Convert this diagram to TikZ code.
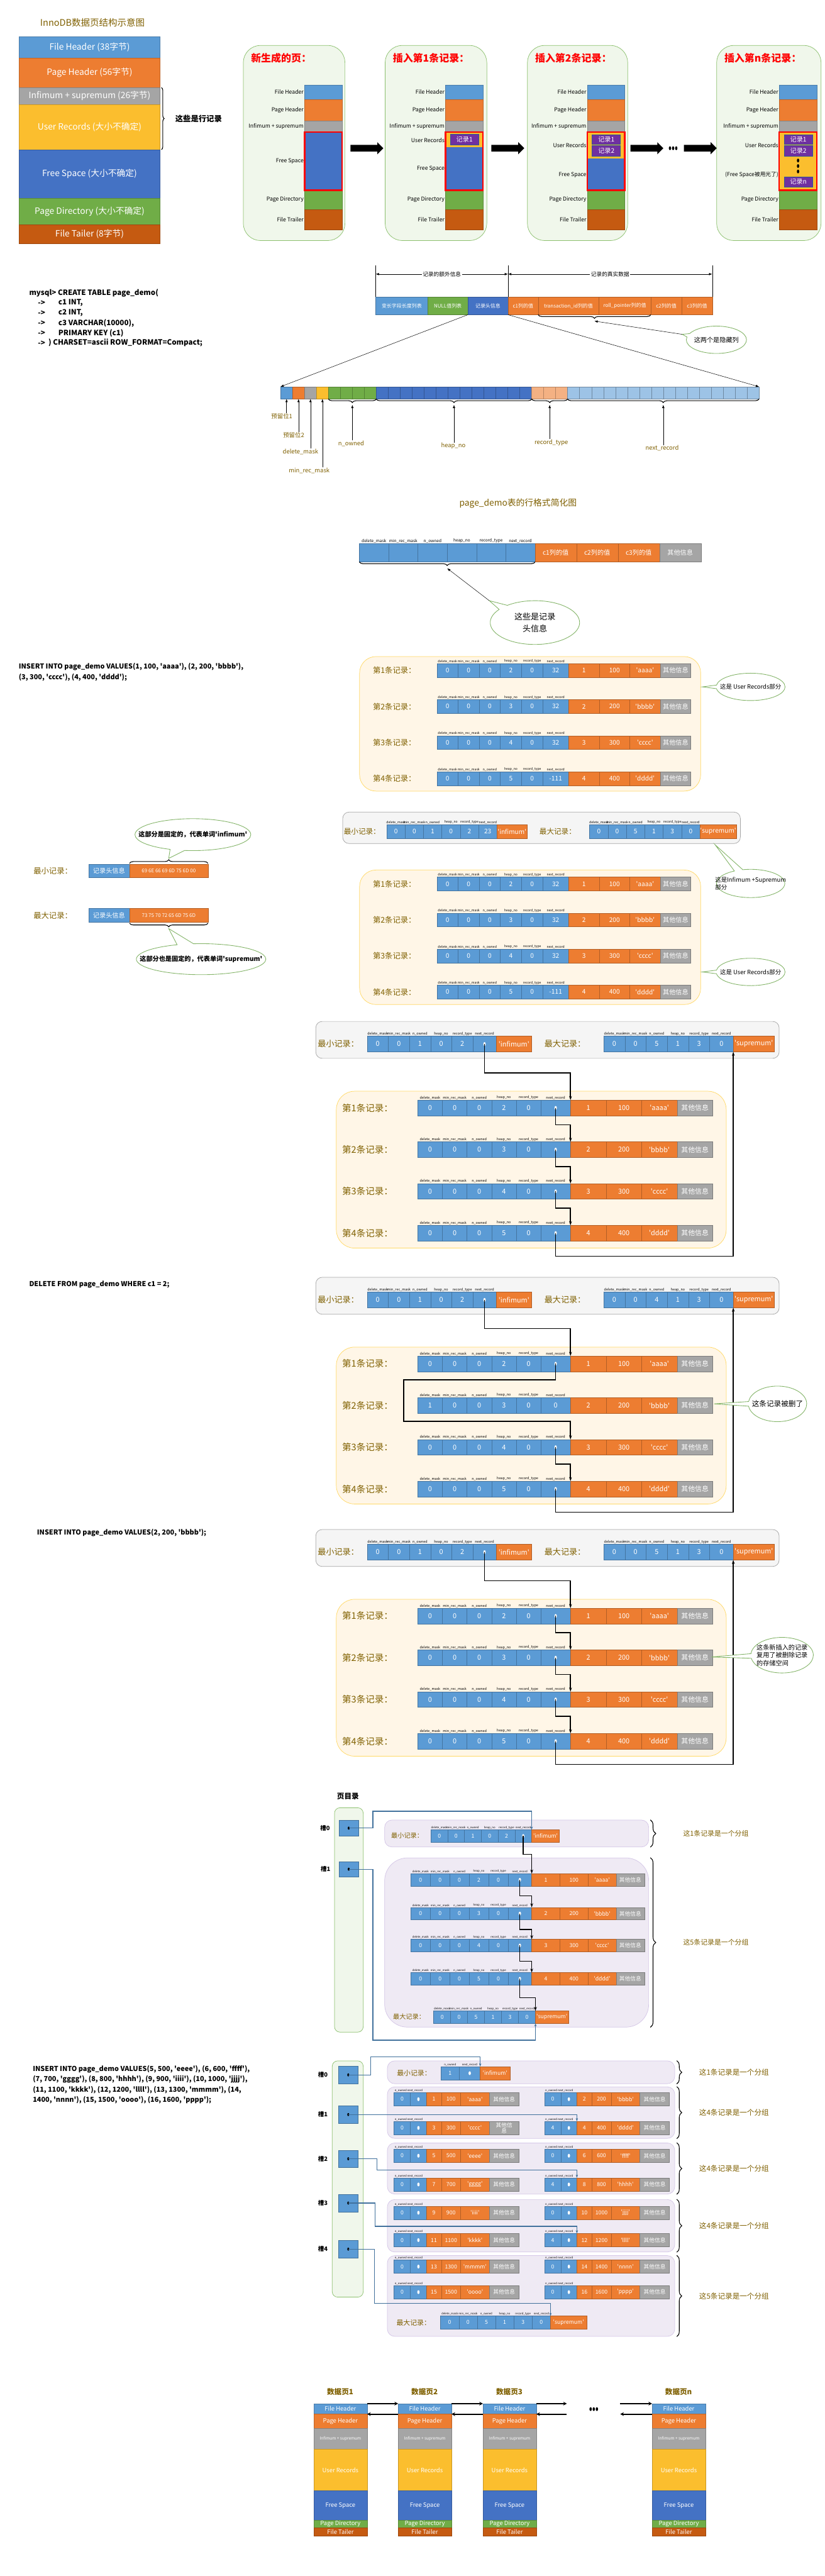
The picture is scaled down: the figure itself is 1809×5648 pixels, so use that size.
\documentclass[tikz,border=0pt]{standalone}
\usepackage{fontspec}
\setmainfont{Noto Sans CJK SC}
\usepackage{tikz}
\usetikzlibrary{shapes.geometric,shapes.arrows,shapes.callouts,arrows.meta,positioning,calc,decorations.pathreplacing}
\definecolor{cblue}{HTML}{5B9BD5}
\definecolor{corange}{HTML}{ED7D31}
\definecolor{cgrey}{HTML}{A5A5A5}
\definecolor{cgold}{HTML}{FBBE2E}
\definecolor{cdblue}{HTML}{4472C4}
\definecolor{cgreen}{HTML}{70AD47}
\definecolor{crust}{HTML}{C55A11}
\definecolor{cpurple}{HTML}{7030A0}
\definecolor{recedge}{HTML}{2F5597}
\definecolor{cltblue}{HTML}{9DC3E6}
\definecolor{cltorange}{HTML}{F4B183}
\definecolor{brownlbl}{HTML}{7F6000}
\definecolor{gpfill}{HTML}{F0F7EB}
\definecolor{gpdraw}{HTML}{8CC06E}
\definecolor{ypfill}{HTML}{FFF6E7}
\definecolor{ypdraw}{HTML}{FFD966}
\definecolor{grfill}{HTML}{F5F5F5}
\definecolor{grdraw}{HTML}{A6A6A6}
\definecolor{lvfill}{HTML}{EFEAF4}
\definecolor{lvdraw}{HTML}{D4C6E7}
\definecolor{slotblue}{HTML}{41719C}
\definecolor{bubgreen}{HTML}{82B366}
\newcommand{\fsz}[1]{\fontsize{#1}{#1}\selectfont}
\newcommand{\q}[1]{\textquotesingle#1\textquotesingle}
\newcommand{\ptr}{\tikz\fill (0,0) ellipse (2.6pt and 4.2pt);}
\newcommand{\sptr}{\tikz\fill (0,0) ellipse (2.2pt and 3.4pt);}
\def\cellfont{\fsz{15}}
\def\hdfont{\fsz{8}}
\def\recheads{delete\_mask,min\_rec\_mask,n\_owned,heap\_no,record\_type,next\_record}
\tikzstyle{seg} = [rectangle, anchor=north west, inner sep=0pt, outer sep=0pt, text=white, align=center]
\tikzstyle{cell} = [seg, font=\cellfont, line width=0.6pt]
\tikzstyle{bit} = [rectangle, anchor=north west, inner sep=0pt, minimum width=26.225pt, minimum height=26pt, line width=0.6pt]
\tikzstyle{hdlbl} = [anchor=south, inner sep=1.5pt, font=\hdfont]
\tikzstyle{tag} = [text=brownlbl, inner sep=1pt]
\tikzstyle{slbl} = [anchor=east, inner sep=1pt, font=\fsz{12}]
\tikzstyle{sql} = [anchor=west, inner sep=0pt, font=\bfseries\fsz{15}]
\tikzstyle{recbox} = [rectangle, anchor=north west, inner sep=0pt, fill=cpurple, draw=recedge, line width=1.2pt, text=white, font=\fsz{14}]
\tikzstyle{redbox} = [draw=red, line width=3pt]
\tikzstyle{bigarrow} = [single arrow, fill=black, inner sep=7pt, minimum height=72pt, single arrow head extend=6pt]
\tikzstyle{arrow} = [-{Latex[length=2.5mm]}, line width=0.7pt]
\tikzstyle{dimarr} = [{Latex[length=2.5mm]}-{Latex[length=2.5mm]}, line width=0.8pt]
\tikzstyle{ptr} = [line width=2.2pt, -{Stealth[length=9pt,width=6pt]}]
\tikzstyle{slotln} = [draw=slotblue, line width=1.6pt, -{Stealth[length=7pt,width=5pt]}]
\tikzstyle{link} = [line width=2.5pt, -{Stealth[length=8pt,width=8pt]}]
\tikzstyle{brc} = [decorate, decoration={brace, amplitude=8pt}, line width=1.5pt]
\tikzstyle{brcm} = [decorate, decoration={brace, mirror, amplitude=8pt}, line width=1.5pt]
\tikzstyle{bubble} = [ellipse callout, draw=bubgreen, line width=1.2pt, fill=white, inner sep=0pt]
\tikzstyle{bubtext} = [align=center, inner sep=0pt]
\tikzstyle{panel} = [rectangle, anchor=north west, inner sep=0pt, line width=1pt]
\tikzstyle{gpanel} = [panel, fill=gpfill, draw=gpdraw, rounded corners=38pt]
\tikzstyle{ypanel} = [panel, fill=ypfill, draw=ypdraw, rounded corners=36pt]
\tikzstyle{greypan} = [panel, fill=grfill, draw=grdraw, rounded corners=14pt]
\tikzstyle{lvpanel} = [panel, fill=lvfill, draw=lvdraw, rounded corners=16pt]
\tikzstyle{slot} = [rectangle, anchor=north west, inner sep=0pt, fill=cblue, draw=slotblue, minimum width=43pt, minimum height=38pt]
\newcommand{\fullrec}[8]{%
  \xdef\curx{#2}%
  \foreach \val [count=\i] in {#8}{%
    \ifnum\i<6 \def\w{#5}\else\ifnum\i=6 \def\w{#6}\else\def\w{#7}\fi\fi
    \ifnum\i<7 \def\cc{cblue}\else\ifnum\i<10 \def\cc{corange}\else\def\cc{cgrey}\fi\fi
    \node[cell, fill=\cc, draw=\cc!75!black, minimum width=\w, minimum height=#4] (#1-\i) at (\curx,#3) {\val};
    \pgfmathsetmacro\nx{\curx+\w}\xdef\curx{\nx}%
  }%
  \foreach \h [count=\i] in \recheads {\node[hdlbl] (#1-h\i) at (#1-\i.north) {\h};}%
}
\newcommand{\minirec}[4]{%
  \xdef\curx{#2}%
  \foreach \val [count=\i] in {#4}{%
    \ifcase\i\or\def\w{36}\or\def\w{35}\or\def\w{33}\or\def\w{42}\or\def\w{63}\else\def\w{65}\fi
    \ifnum\i<3 \def\cc{cblue}\else\ifnum\i<6 \def\cc{corange}\else\def\cc{cgrey}\fi\fi
    \node[cell, fill=\cc, draw=\cc!75!black, minimum width=\w, minimum height=29] (#1-\i) at (\curx,#3) {\val};
    \pgfmathsetmacro\nx{\curx+\w}\xdef\curx{\nx}%
  }%
  \node[hdlbl, anchor=south west] (#1-h) at (#1-1.north west) {n\_owned next\_record};%
}
\newcommand{\simplesec}[2]{%
  \node[ypanel, minimum width=748, minimum height=295] (#1pan) at (788,#2) {};
  \pgfmathsetmacro\yr{#2+16}\fullrec{#1r1}{958}{\yr}{30}{46.4}{57}{67}{0,0,0,2,0,32,1,100,\q{aaaa},其他信息}%
  \pgfmathsetmacro\yr{#2+95}\fullrec{#1r2}{958}{\yr}{30}{46.4}{57}{67}{0,0,0,3,0,32,2,200,\q{bbbb},其他信息}%
  \pgfmathsetmacro\yr{#2+174}\fullrec{#1r3}{958}{\yr}{30}{46.4}{57}{67}{0,0,0,4,0,32,3,300,\q{cccc},其他信息}%
  \pgfmathsetmacro\yr{#2+253}\fullrec{#1r4}{958}{\yr}{30}{46.4}{57}{67}{0,0,0,5,0,-111,4,400,\q{dddd},其他信息}%
  \foreach \k in {1,...,4} \node[tag, font=\fsz{17}] (#1l\k) at (865,{#2+31+(\k-1)*79}) {第\k 条记录：};%
}
\newcommand{\listsec}[4]{%
  \pgfmathsetmacro\yA{#2+33}\pgfmathsetmacro\yB{#2+153}%
  \node[greypan, minimum width=1016, minimum height=81] (#1grey) at (692,#2) {};
  \node[tag, font=\fsz{18}] (#1minl) at (742,{#2+50}) {最小记录：};
  \fullrec{#1inf}{805}{\yA}{34}{46.4}{51}{78}{0,0,1,0,2,\ptr,\q{infimum}}%
  \node[tag, font=\fsz{18}] (#1maxl) at (1239,{#2+50}) {最大记录：};
  \fullrec{#1sup}{1324}{\yA}{34}{46.4}{52}{90}{0,0,#3,1,3,0,\q{supremum}}%
  \node[ypanel, rounded corners=40pt, minimum width=855, minimum height=344] (#1pan) at (737,\yB) {};
  \pgfmathsetmacro\yr{#2+173}\fullrec{#1r1}{916}{\yr}{34}{54}{65}{78}{0,0,0,2,0,\ptr,1,100,\q{aaaa},其他信息}%
  \pgfmathsetmacro\yr{#2+264.5}\fullrec{#1r2}{916}{\yr}{34}{54}{65}{78}{#4}%
  \pgfmathsetmacro\yr{#2+356}\fullrec{#1r3}{916}{\yr}{34}{54}{65}{78}{0,0,0,4,0,\ptr,3,300,\q{cccc},其他信息}%
  \pgfmathsetmacro\yr{#2+447.5}\fullrec{#1r4}{916}{\yr}{34}{54}{65}{78}{0,0,0,5,0,\ptr,4,400,\q{dddd},其他信息}%
  \foreach \k in {1,...,4} \node[tag, font=\fsz{20}] (#1l\k) at (806,{#2+190+(\k-1)*91.5}) {第\k 条记录：};%
}
\begin{document}
\begin{tikzpicture}[x=1pt, y=-1pt]
\useasboundingbox (0,0) rectangle (1809,5648);
\fill[white] (0,0) rectangle (1809,5648);

\node[tag, font=\fsz{20}, anchor=west] (title1) at (87,49) {InnoDB数据页结构示意图};
\foreach \n/\ya/\yb/\cl/\tx in {fh/80/127/cblue/{File Header (38字节)}, ph/127/192/corange/{Page Header (56字节)}, is/192/229/cgrey/{Infimum + supremum (26字节)}, ur/229/328/cgold/{User Records (大小不确定)}, fs/328/435/cdblue/{Free Space (大小不确定)}, pd/435/493/cgreen/{Page Directory (大小不确定)}, ft/493/534/crust/{File Tailer (8字节)}}
  \node[seg, fill=\cl, draw=\cl!80!black, minimum width=309, minimum height=\yb-\ya, font=\fsz{19}] (L\n) at (42,\ya) {\tx};
\draw[brc, decoration={brace, amplitude=6pt}] ([xshift=3pt]Lis.north east) -- ([xshift=3pt]Lur.south east);
\node[font=\bfseries\fsz{17}, anchor=west] (rowlbl) at (381,260) {这些是行记录};

\foreach \p/\xa/\xb/\tx in {a/533/756/新生成的页：, b/844/1067/插入第1条记录：, c/1156/1376/插入第2条记录：, d/1571/1800/插入第n条记录：} {
  \node[gpanel, minimum width=\xb-\xa, minimum height=428] (P\p) at (\xa,99) {};
  \node[anchor=west, text=red, font=\bfseries\fsz{22}] (P\p-t) at ({\xa+14},127) {\tx};
}
\foreach \p/\xa in {a/668,b/977,c/1288,d/1709}{
  \foreach \n/\ya/\yb/\cl/\tx in {fh/186/218/cblue/File Header,ph/218/265/corange/Page Header,is/265/289/cgrey/Infimum + supremum,pd/417/459/cgreen/Page Directory,ft/459/504/crust/File Trailer}{
    \node[seg, fill=\cl, draw=\cl!80!black, minimum width=82, minimum height=\yb-\ya] (\p\n) at (\xa,\ya) {};
    \node[slbl] (\p\n-l) at ({\xa-1},{(\ya+\yb)/2}) {\tx};
  }
}
\node[seg, fill=cdblue, minimum width=82, minimum height=128] (afs) at (668,289) {};
\node[slbl] (afs-l) at (667,354) {Free Space};
\draw[redbox] (afs.north west) rectangle (afs.south east);

\node[seg, fill=cgold, minimum width=82, minimum height=33] (bur) at (977,289) {};
\node[seg, fill=cdblue, minimum width=82, minimum height=95] (bfs) at (977,322) {};
\node[recbox, minimum width=62, minimum height=23] (brec1) at (987,294) {记录1};
\node[slbl] (bur-l) at (976,307) {User Records};
\node[slbl] (bfs-l) at (976,370) {Free Space};
\draw[redbox] (bur.north west) rectangle (bfs.south east);

\node[seg, fill=cgold, minimum width=82, minimum height=59] (cur) at (1288,289) {};
\node[seg, fill=cdblue, minimum width=82, minimum height=69] (cfs) at (1288,348) {};
\node[recbox, minimum width=62, minimum height=21] (crec1) at (1298,295) {记录1};
\node[recbox, minimum width=62, minimum height=23] (crec2) at (1298,319) {记录2};
\node[slbl] (cur-l) at (1287,318) {User Records};
\node[slbl] (cfs-l) at (1287,383) {Free Space};
\draw[redbox] (cur.north west) rectangle (cfs.south east);

\node[seg, fill=cgold, minimum width=82, minimum height=128] (dur) at (1709,289) {};
\node[recbox, minimum width=62, minimum height=21] (drec1) at (1719,295) {记录1};
\node[recbox, minimum width=62, minimum height=23] (drec2) at (1719,319) {记录2};
\node[align=center, inner sep=0pt, font=\fontsize{12}{12}\selectfont] (ddots) at (1750,364) {\ptr\\\ptr\\\ptr};
\node[recbox, minimum width=62, minimum height=22] (drecn) at (1719,387) {记录n};
\node[slbl] (dur-l) at (1708,318) {User Records};
\node[slbl] (dfs-l) at (1708,383) {(Free Space被用光了)};
\draw[redbox] (dur.north west) rectangle (dur.south east);

\node[bigarrow] (bar1) at (801,325) {};
\node[bigarrow] (bar2) at (1110,325) {};
\node[bigarrow] (bar3) at (1415,325) {};
\node[inner sep=0pt] (dots1) at (1476,325) {\ptr\,\ptr\,\ptr};
\node[bigarrow] (bar4) at (1532,325) {};

\node[sql, font=\bfseries\fsz{16}] (sq0) at (64,642) {mysql> CREATE TABLE page\_demo(};
\foreach \yy [count=\i] in {664,686,708,730,752} \node[sql, font=\bfseries\fsz{16}] (sqa\i) at (83,\yy) {->};
\node[sql, font=\bfseries\fsz{16}] (sq1) at (128,664) {c1 INT,};
\node[sql, font=\bfseries\fsz{16}] (sq2) at (128,686) {c2 INT,};
\node[sql, font=\bfseries\fsz{16}] (sq3) at (128,708) {c3 VARCHAR(10000),};
\node[sql, font=\bfseries\fsz{16}] (sq4) at (128,730) {PRIMARY KEY (c1)};
\node[sql, font=\bfseries\fsz{16}] (sq5) at (106,752) {) CHARSET=ascii ROW\_FORMAT=Compact;};

\foreach \n/\xa/\xb/\cl/\tx in {1/824/938/cblue/变长字段长度列表, 2/938/1026/cgreen/NULL值列表, 3/1026/1114/cdblue/记录头信息, 4/1114/1180/corange/c1列的值, 5/1180/1313/corange/transaction\_id列的值, 6/1313/1427/corange/roll\_pointer列的值, 7/1427/1495/corange/c2列的值, 8/1495/1562/corange/c3列的值}
  \node[seg, fill=\cl, draw=\cl!75!black, minimum width=\xb-\xa, minimum height=39, font=\fsz{11}] (rf\n) at (\xa,651) {\tx};
\coordinate (dA) at (824,582);
\coordinate (dB) at (1114,582);
\coordinate (dC) at (1562,582);
\draw[line width=0.8pt] (dA) -- (rf1.north west);
\draw[line width=0.8pt] (dB) -- (rf4.north west);
\draw[line width=0.8pt] (dC) -- (rf8.north east);
\draw[dimarr] ([yshift=-19pt]dA) -- node[fill=white, font=\fsz{12}, inner sep=2pt] (dl1) {记录的额外信息} ([yshift=-19pt]dB);
\draw[dimarr] ([yshift=-19pt]dB) -- node[fill=white, font=\fsz{12}, inner sep=2pt] (dl2) {记录的真实数据} ([yshift=-19pt]dC);
\draw[brcm] (rf5.south west) -- (rf6.south east);
\coordinate (rtip) at ($(rf5.south west)!0.5!(rf6.south east)+(0,14)$);
\coordinate (cp2) at (1496,733);
\node[bubble, minimum width=132, minimum height=60, callout absolute pointer={(cp2)}] (cb2) at (1571,745) {};
\node[bubtext, font=\fsz{14}] (cb2t) at (cb2.center) {这两个是隐藏列};
\draw[arrow] (cp2) -- (rtip);

\foreach \k/\cl in {0/cblue,1/corange,2/cgrey,3/cgold} \node[bit, fill=\cl, draw=\cl!75!black] (b\k) at ({615+\k*26.225},848) {};
\foreach \k in {4,...,7} \node[bit, fill=cgreen, draw=cgreen!75!black] (b\k) at ({615+\k*26.225},848) {};
\foreach \k in {8,...,20} \node[bit, fill=cdblue, draw=cdblue!75!black] (b\k) at ({615+\k*26.225},848) {};
\foreach \k in {21,...,23} \node[bit, fill=cltorange, draw=cltorange!75!black] (b\k) at ({615+\k*26.225},848) {};
\foreach \k in {24,...,39} \node[bit, fill=cltblue, draw=cltblue!70!black] (b\k) at ({615+\k*26.225},848) {};
\draw[arrow] (rf3.south west) -- (b0.north west);
\draw[arrow] (rf3.south east) -- (b39.north east);
\draw[brcm] (b4.south west) -- (b7.south east);
\draw[brcm] (b8.south west) -- (b20.south east);
\draw[brcm] (b21.south west) -- (b23.south east);
\draw[brcm] (b24.south west) -- (b39.south east);
\coordinate (tno) at ($(b4.south west)!0.5!(b7.south east)+(0,13)$);
\coordinate (thn) at ($(b8.south west)!0.5!(b20.south east)+(0,13)$);
\coordinate (trt) at ($(b21.south west)!0.5!(b23.south east)+(0,13)$);
\coordinate (tnr) at ($(b24.south west)!0.5!(b39.south east)+(0,13)$);
\node[tag, font=\fsz{13}] (lb1) at (618,913) {预留位1};
\node[tag, font=\fsz{13}] (lb2) at (644,954) {预留位2};
\node[tag, font=\fsz{13}] (lb3) at (659,991) {delete\_mask};
\node[tag, font=\fsz{13}] (lb4) at (678,1032) {min\_rec\_mask};
\node[tag, font=\fsz{13}] (lb5) at (770,973) {n\_owned};
\node[tag, font=\fsz{13}] (lb6) at (994,978) {heap\_no};
\node[tag, font=\fsz{13}] (lb7) at (1209,970) {record\_type};
\node[tag, font=\fsz{13}] (lb8) at (1452,983) {next\_record};
\draw[arrow] (lb1.north -| b0.south) -- (b0.south);
\draw[arrow] (lb2.north -| b1.south) -- (b1.south);
\draw[arrow] (lb3.north -| b2.south) -- (b2.south);
\draw[arrow] (lb4.north -| b3.south) -- (b3.south);
\draw[arrow] (lb5.north -| tno) -- (tno);
\draw[arrow] (lb6.north -| thn) -- (thn);
\draw[arrow] (lb7.north -| trt) -- (trt);
\draw[arrow] (lb8.north -| tnr) -- (tnr);

\def\hdfont{\fsz{9}}
\node[tag, font=\fsz{19}] (s3t) at (1136,1104) {page\_demo表的行格式简化图};
\foreach \i in {1,...,6} \node[seg, fill=cblue, draw=cblue!75!black, minimum width=64.2, minimum height=40] (s3c\i) at ({788+(\i-1)*64.2},1192) {};
\foreach \h [count=\i] in \recheads \node[hdlbl] (s3h\i) at (s3c\i.north) {\h};
\foreach \i/\cl/\tx in {7/corange/c1列的值, 8/corange/c2列的值, 9/corange/c3列的值, 10/cgrey/其他信息}
  \node[seg, fill=\cl, draw=\cl!75!black, minimum width=91, minimum height=40, font=\fsz{14}] (s3c\i) at ({1173+(\i-7)*91},1192) {\tx};
\draw[brcm] (s3c1.south west) -- (s3c6.south east);
\coordinate (s3tip) at ($(s3c1.south west)!0.5!(s3c6.south east)+(0,14)$);
\coordinate (s3cp) at (1073,1317);
\node[bubble, minimum width=196, minimum height=96, callout absolute pointer={(s3cp)}] (s3b) at (1173,1365) {};
\node[bubtext, font=\fontsize{18}{26}\selectfont] (s3bt) at (s3b.center) {这些是记录\\头信息};
\draw[arrow] (s3cp) -- (s3tip);

\def\cellfont{\fsz{14}}\def\hdfont{\fsz{7}}
\node[sql] (ins1) at (41,1462) {INSERT INTO page\_demo VALUES(1, 100, \q{aaaa}), (2, 200, \q{bbbb}),};
\node[sql] (ins1b) at (41,1485) {(3, 300, \q{cccc}), (4, 400, \q{dddd});};
\simplesec{s4}{1439}
\coordinate (s4cp) at (1540,1506);
\node[bubble, minimum width=151, minimum height=60, callout absolute pointer={(s4cp)}] (s4b) at (1646,1506) {};
\node[bubtext, font=\fsz{13}] (s4bt) at (s4b.center) {这是 User Records部分};
\node[greypan, minimum width=872, minimum height=69] (s4grey) at (751,1780) {};
\node[tag, font=\fsz{16}] (s4minl) at (794,1823) {最小记录：};
\fullrec{s4inf}{848}{1808}{30}{40.3}{40.3}{66}{0,0,1,0,2,23,\q{infimum}}
\node[tag, font=\fsz{16}] (s4maxl) at (1223,1823) {最大记录：};
\fullrec{s4sup}{1293}{1808}{30}{40.3}{40.3}{80}{0,0,5,1,3,0,\q{supremum}}

\node[tag, font=\fsz{17}] (s5minl) at (116,1910) {最小记录：};
\node[seg, fill=cblue, draw=cblue!75!black, minimum width=90, minimum height=29, font=\fsz{14}] (s5ih) at (194,1895) {记录头信息};
\node[seg, fill=corange, draw=corange!75!black, minimum width=172, minimum height=29, font=\fsz{11}] (s5iv) at (284,1895) {69 6E 66 69 6D 75 6D 00};
\draw[brc] ([yshift=2pt]s5iv.north west) -- ([yshift=2pt]s5iv.north east);
\coordinate (s5t1) at ($(s5iv.north)+(0,-13)$);
\node[bubble, minimum width=254, minimum height=70, callout absolute pointer={(s5t1)}] (s5b1) at (423,1830) {};
\node[bubtext, font=\bfseries\fsz{14}] (s5b1t) at (s5b1.center) {这部分是固定的，代表单词\q{infimum}};
\node[tag, font=\fsz{17}] (s5maxl) at (116,2007) {最大记录：};
\node[seg, fill=cblue, draw=cblue!75!black, minimum width=90, minimum height=30, font=\fsz{14}] (s5sh) at (194,1992) {记录头信息};
\node[seg, fill=corange, draw=corange!75!black, minimum width=172, minimum height=30, font=\fsz{11}] (s5sv) at (284,1992) {73 75 70 72 65 6D 75 6D};
\draw[brcm] ([yshift=-2pt]s5sv.south west) -- ([yshift=-2pt]s5sv.south east);
\coordinate (s5t2) at ($(s5sv.south)+(0,14)$);
\node[bubble, minimum width=284, minimum height=68, callout absolute pointer={(s5t2)}] (s5b2) at (441,2103) {};
\node[bubtext, font=\bfseries\fsz{14}] (s5b2t) at (s5b2.center) {这部分也是固定的，代表单词\q{supremum}};
\coordinate (s5cp1) at (1568,1852);
\node[bubble, minimum width=150, minimum height=62, callout absolute pointer={(s5cp1)}] (s5b3) at (1646,1937) {};
\node[bubtext, align=left, font=\fontsize{13}{17}\selectfont] (s5b3t) at (s5b3.center) {这是Infimum +Supremum\\部分};
\simplesec{s5}{1907}
\coordinate (s5cp2) at (1540,2131);
\node[bubble, minimum width=151, minimum height=60, callout absolute pointer={(s5cp2)}] (s5b4) at (1646,2131) {};
\node[bubtext, font=\fsz{13}] (s5b4t) at (s5b4.center) {这是 User Records部分};

\def\cellfont{\fsz{15}}\def\hdfont{\fsz{7.5}}
\listsec{la}{2239}{5}{0,0,0,3,0,\ptr,2,200,\q{bbbb},其他信息}
\draw[ptr] (lainf-6.center) -- ++(0,63) -| (lar1-6.north east);
\draw[ptr] (lar1-6.center) -- ++(0,37) -| (lar2-6.north east);
\draw[ptr] (lar2-6.center) -- ++(0,37) -| (lar3-6.north east);
\draw[ptr] (lar3-6.center) -- ++(0,37) -| (lar4-6.north east);
\draw[ptr] (lar4-6.center) -- ++(0,51) -| (lasup-6.south east);

\node[sql] (del) at (64,2817) {DELETE FROM page\_demo WHERE c1 = 2;};
\listsec{lb}{2800}{4}{1,0,0,3,0,0,2,200,\q{bbbb},其他信息}
\draw[ptr] (lbinf-6.center) -- ++(0,63) -| (lbr1-6.north east);
\draw[ptr] (lbr1-6.center) -- ++(0,35) -- ++(-333,0) -- ++(0,91) -| (lbr3-6.north east);
\draw[ptr] (lbr3-6.center) -- ++(0,37) -| (lbr4-6.north east);
\draw[ptr] (lbr4-6.center) -- ++(0,51) -| (lbsup-6.south east);
\coordinate (lbcp) at (1566,3078);
\node[bubble, minimum width=128, minimum height=78, callout absolute pointer={(lbcp)}] (lbb) at (1705,3078) {};
\node[bubtext, font=\fsz{16}] (lbbt) at (lbb.center) {这条记录被删了};

\node[sql] (ins2) at (81,3361) {INSERT INTO page\_demo VALUES(2, 200, \q{bbbb});};
\listsec{lc}{3353}{5}{0,0,0,3,0,\ptr,2,200,\q{bbbb},其他信息}
\draw[ptr] (lcinf-6.center) -- ++(0,63) -| (lcr1-6.north east);
\draw[ptr] (lcr1-6.center) -- ++(0,37) -| (lcr2-6.north east);
\draw[ptr] (lcr2-6.center) -- ++(0,37) -| (lcr3-6.north east);
\draw[ptr] (lcr3-6.center) -- ++(0,37) -| (lcr4-6.north east);
\draw[ptr] (lcr4-6.center) -- ++(0,51) -| (lcsup-6.south east);
\coordinate (lccp) at (1560,3633);
\node[bubble, minimum width=137, minimum height=78, callout absolute pointer={(lccp)}] (lcb) at (1715,3629) {};
\node[bubtext, align=left, font=\fontsize{14}{17}\selectfont] (lcbt) at (lcb.center) {这条新插入的记录\\复用了被删除记录\\的存储空间};

\def\cellfont{\fsz{12}}\def\hdfont{\fsz{6}}
\node[font=\bfseries\fsz{16}] (pdt) at (763,3938) {页目录};
\node[panel, fill=gpfill, draw=gpdraw, rounded corners=12pt, minimum width=63, minimum height=492] (pdir) at (733,3963) {};
\node[slot, minimum height=34] (ps0) at (743,3991) {\sptr};
\node[slot, minimum height=34] (ps1) at (743,4081) {\sptr};
\node[font=\bfseries\fsz{13}] (ps0-l) at (713,4008) {槽0};
\node[font=\bfseries\fsz{13}] (ps1-l) at (714,4098) {槽1};
\node[lvpanel, minimum width=579, minimum height=59] (pg0) at (843,3990) {};
\node[lvpanel, rounded corners=50pt, minimum width=579, minimum height=371] (pg1) at (843,4073) {};
\node[tag, font=\fsz{14}] (pinfl) at (893,4025) {最小记录：};
\fullrec{pinf}{945}{4012}{27}{36.8}{36.8}{61}{0,0,1,0,2,\ptr,\q{infimum}}
\fullrec{pr1}{901}{4108}{27}{42.6}{52}{61.75}{0,0,0,2,0,\ptr,1,100,\q{aaaa},其他信息}
\fullrec{pr2}{901}{4182}{27}{42.6}{52}{61.75}{0,0,0,3,0,\ptr,2,200,\q{bbbb},其他信息}
\fullrec{pr3}{901}{4252}{27}{42.6}{52}{61.75}{0,0,0,4,0,\ptr,3,300,\q{cccc},其他信息}
\fullrec{pr4}{901}{4325}{27}{42.6}{52}{61.75}{0,0,0,5,0,\ptr,4,400,\q{dddd},其他信息}
\node[tag, font=\fsz{14}] (psupl) at (897,4422) {最大记录：};
\fullrec{psup}{951}{4409}{27}{37.2}{37.2}{72}{0,0,5,1,3,0,\q{supremum}}
\draw[ptr, line width=1.8pt] (pinf-6.center) -- ++(0,40) -| (pr1-6.north east);
\draw[ptr, line width=1.8pt] (pr1-6.center) -- ++(0,35) -| (pr2-6.north east);
\draw[ptr, line width=1.8pt] (pr2-6.center) -- ++(0,35) -| (pr3-6.north east);
\draw[ptr, line width=1.8pt] (pr3-6.center) -- ++(0,35) -| (pr4-6.north east);
\draw[ptr, line width=1.8pt] (pr4-6.center) -- ++(0,42) -| (psup-6.north east);
\draw[slotln] (ps0.center) -- ++(53,0) -- ++(0,-37) -| (pinf-6.north east);
\draw[slotln] (ps1.center) -- ++(53,0) -- ++(0,375) -| (psup-6.south east);
\draw[brc, decoration={brace, amplitude=12pt}] ([xshift=3pt]pg0.north east) -- ([xshift=3pt]pg0.south east);
\draw[brc, decoration={brace, amplitude=12pt}] ([xshift=3pt]pg1.north east) -- ([xshift=3pt]pg1.south east);
\node[tag, font=\fsz{15}, anchor=west] (pg0-l) at ([xshift=74pt]pg0.east) {这1条记录是一个分组};
\node[tag, font=\fsz{15}, anchor=west] (pg1-l) at ([xshift=74pt]pg1.east) {这5条记录是一个分组};

\node[sql] (ins3a) at (72,4537) {INSERT INTO page\_demo VALUES(5, 500, \q{eeee}), (6, 600, \q{ffff}),};
\node[sql] (ins3b) at (72,4559) {(7, 700, \q{gggg}), (8, 800, \q{hhhh}), (9, 900, \q{iiii}), (10, 1000, \q{jjjj}),};
\node[sql] (ins3c) at (72,4582) {(11, 1100, \q{kkkk}), (12, 1200, \q{llll}), (13, 1300, \q{mmmm}), (14,};
\node[sql] (ins3d) at (72,4604) {1400, \q{nnnn}), (15, 1500, \q{oooo}), (16, 1600, \q{pppp});};
\node[panel, fill=gpfill, draw=gpdraw, rounded corners=12pt, minimum width=68, minimum height=518] (qdir) at (728,4518) {};
\foreach \k/\ya in {0/4530,1/4617,2/4714,3/4811,4/4912} {
  \node[slot] (qs\k) at (742,\ya) {\sptr};
  \node[font=\bfseries\fsz{13}] (qs\k-l) at (708,{\ya+19}) {槽\k};
}
\foreach \n/\ya/\yb/\m in {0/4518/4568/1, 1/4575/4688/4, 2/4698/4810/4, 3/4822/4937/4, 4/4945/5122/5} {
  \node[lvpanel, minimum width=630, minimum height=\yb-\ya] (qg\n) at (849,\ya) {};
  \draw[brc, decoration={brace, amplitude=11pt}] ([xshift=4pt]qg\n.north east) -- ([xshift=4pt]qg\n.south east);
  \node[tag, font=\fsz{16}, anchor=west] (qg\n-l) at ([xshift=52pt]qg\n.east) {这\m 条记录是一个分组};
}
\node[tag, font=\fsz{15}] (q0l) at (908,4546) {最小记录：};
\node[cell, fill=cblue, draw=cblue!75!black, minimum width=40, minimum height=29] (q0inf-1) at (967,4531) {1};
\node[cell, fill=cblue, draw=cblue!75!black, minimum width=46, minimum height=29] (q0inf-2) at (1007,4531) {\ptr};
\node[cell, fill=corange, draw=corange!75!black, minimum width=65, minimum height=29] (q0inf-3) at (1053,4531) {\q{infimum}};
\node[hdlbl] (q0inf-h1) at (q0inf-1.north) {n\_owned};
\node[hdlbl] (q0inf-h2) at (q0inf-2.north) {next\_record};
\minirec{q1a}{864}{4588}{0,\ptr,1,100,\q{aaaa},其他信息}
\minirec{q1b}{1194}{4588}{0,\ptr,2,200,\q{bbbb},其他信息}
\minirec{q1c}{864}{4651}{0,\ptr,3,300,\q{cccc},{其他信\\息}}
\minirec{q1d}{1194}{4651}{4,\ptr,4,400,\q{dddd},其他信息}
\minirec{q2a}{864}{4712}{0,\ptr,5,500,\q{eeee},其他信息}
\minirec{q2b}{1194}{4712}{0,\ptr,6,600,\q{ffff},其他信息}
\minirec{q2c}{864}{4775}{0,\ptr,7,700,\q{gggg},其他信息}
\minirec{q2d}{1194}{4775}{4,\ptr,8,800,\q{hhhh},其他信息}
\minirec{q3a}{864}{4837}{0,\ptr,9,900,\q{iiii},其他信息}
\minirec{q3b}{1194}{4837}{0,\ptr,10,1000,\q{jjjj},其他信息}
\minirec{q3c}{864}{4897}{0,\ptr,11,1100,\q{kkkk},其他信息}
\minirec{q3d}{1194}{4897}{4,\ptr,12,1200,\q{llll},其他信息}
\minirec{q4a}{864}{4955}{0,\ptr,13,1300,\q{mmmm},其他信息}
\minirec{q4b}{1194}{4955}{0,\ptr,14,1400,\q{nnnn},其他信息}
\minirec{q4c}{864}{5011}{0,\ptr,15,1500,\q{oooo},其他信息}
\minirec{q4d}{1194}{5011}{0,\ptr,16,1600,\q{pppp},其他信息}
\node[tag, font=\fsz{15}] (q4l) at (907,5093) {最大记录：};
\fullrec{q4sup}{966}{5078}{28}{40.2}{40.2}{79}{0,0,5,1,3,0,\q{supremum}}
\draw[slotln] (qs0.center) -- ++(49,0) -- ++(0,-39) -| (q0inf-2.north east);
\draw[slotln] (qs1.center) -| (q1d-2.north east);
\draw[slotln] (qs2.center) -- ++(63,0) -- ++(0,25) -| (q2d-2.north east);
\draw[slotln] (qs3.center) -- ++(59,0) -- ++(0,51) -| (q3d-2.north east);
\draw[slotln] (qs4.center) -- ++(57,0) -- ++(0,119) -| (q4sup-6.north east);

\foreach \g/\xa/\tx in {1/688/数据页1, 2/873/数据页2, 3/1059/数据页3, n/1430/数据页n} {
  \node[tag, font=\bfseries\fsz{16}] (g\g-t) at ({\xa+58},5244) {\tx};
  \foreach \n/\ya/\yb/\cl/\lt in {fh/5270/5293/cblue/File Header, ph/5293/5324/corange/Page Header, is/5324/5370/cgrey/{\fsz{9}Infimum + supremum}, ur/5370/5461/cgold/User Records, fs/5461/5526/cdblue/Free Space, pd/5526/5542/cgreen/Page Directory, ft/5542/5560/crust/File Tailer}
    \node[seg, fill=\cl, draw=\cl!80!black, minimum width=117, minimum height=\yb-\ya, font=\fsz{13}] (g\g\n) at (\xa,\ya) {\lt};
}
\draw[link] (g1fh.north east) -- (g2fh.north west);
\draw[link] (g2fh.south west) -- (g1fh.south east);
\draw[link] (g2fh.north east) -- (g3fh.north west);
\draw[link] (g3fh.south west) -- (g2fh.south east);
\coordinate (ga) at (1243,5270);
\coordinate (gb) at (1243,5293);
\coordinate (gc) at (1360,5270);
\coordinate (gd) at (1360,5293);
\draw[link] (g3fh.north east) -- (ga);
\draw[link] (gb) -- (g3fh.south east);
\node[inner sep=0pt] (gdots) at (1302,5282) {\ptr\,\ptr\,\ptr};
\draw[link] (gc) -- (gnfh.north west);
\draw[link] (gnfh.south west) -- (gd);
\end{tikzpicture}
\end{document}
